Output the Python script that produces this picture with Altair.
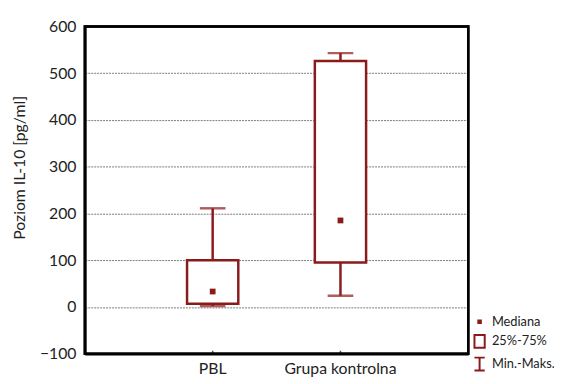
import altair as alt
import pandas as pd

groups = ["PBL", "Grupa kontrolna"]
mins = [2, 24]
q1s = [7, 95]
medians = [33, 185]
q3s = [100, 526]
maxs = [211, 543]

y_ticks = [-100, 0, 100, 200, 300, 400, 500, 600]
legend_labels = ["Mediana", "25%-75%", "Min.-Maks."]

RED = "#8B1A1A"
TXT = "#222222"
FONT = "Lato"
W, H = 389, 332

df = pd.DataFrame({"grupa": groups, "min": mins, "q1": q1s, "med": medians,
                   "q3": q3s, "max": maxs})
leg_df = pd.DataFrame({"k": legend_labels, "v": [None, None, None]})

x = alt.X("grupa:N", sort=groups, title=None,
          scale=alt.Scale(paddingInner=0, paddingOuter=0.5),
          axis=alt.Axis(labelAngle=0, labelFontSize=16, labelPadding=7, ticks=False,
                        domain=True, domainColor="#000000", domainWidth=2.5,
                        labelColor=TXT, labelFont=FONT, grid=False))

yscale = alt.Scale(domain=[-100, 600], nice=False, zero=False)
yaxis = alt.Axis(values=y_ticks, title="Poziom IL-10 [pg/ml]", labelFontSize=16,
                 labelFont=FONT, labelColor=TXT, labelPadding=9, ticks=False,
                 domain=True, domainColor="#000000", domainWidth=2.5,
                 grid=True, gridColor="#7a7a7a", gridDash=[2, 1], gridWidth=1,
                 gridOpacity={"condition": {"test": "datum.value == 600 || datum.value == -100", "value": 0}, "value": 1},
                 titleFont=FONT, titleFontSize=16, titleFontWeight="normal", titleColor=TXT,
                 titleAngle=270, titleX=-66, titleY=143, titleAlign="center",
                 titleBaseline="middle")


def Y(field):
    return alt.Y(field, type="quantitative", scale=yscale, axis=yaxis)


base = alt.Chart(df)

frame = alt.Chart(pd.DataFrame({"f": [0]})).mark_rect(
    fill="transparent", stroke="#000000", strokeWidth=2.5, opacity=1, strokeOpacity=1).encode(
    x=alt.value(0), x2=alt.value(W), y=alt.value(0), y2=alt.value(H))

whisker = base.mark_rule(color=RED, strokeWidth=2.5).encode(x=x, y=Y("min"), y2="max:Q")
box = base.mark_bar(fill="white", stroke=RED, strokeWidth=2.5, size=52).encode(
    x=x, y=Y("q1"), y2="q3:Q")
cap_lo = base.mark_tick(color=RED, thickness=2.5, size=26, orient="horizontal").encode(x=x, y=Y("min"))
cap_hi = base.mark_tick(color=RED, thickness=2.5, size=26, orient="horizontal").encode(x=x, y=Y("max"))
median = base.mark_square(color=RED, size=34, opacity=1).encode(x=x, y=Y("med"))
xticks = base.mark_tick(color="black", orient="vertical", size=6, thickness=1.5, clip=True).encode(
    x=x, y=alt.YDatum(-100, type="quantitative", scale=yscale, axis=yaxis))

paths = [
    "M-0.2,-0.2H0.2V0.2H-0.2Z M-0.2,0H0.2",
    "M-0.8,-1H0.8V1H-0.8Z",
    "M-0.8,-1H0.8M0,-1V1M-0.8,1H0.8",
]
legend_layer = alt.Chart(leg_df).mark_point(color=RED, strokeWidth=2, filled=False, opacity=1).encode(
    y=alt.Y("v:Q", scale=yscale, axis=yaxis),
    shape=alt.Shape("k:N", scale=alt.Scale(domain=legend_labels, range=paths),
                    legend=alt.Legend(title=None, orient="none", legendX=393, legendY=292,
                                      labelFontSize=13, labelFont=FONT, labelColor=TXT,
                                      symbolSize=169, symbolStrokeWidth=2, rowPadding=2,
                                      labelOffset=5, symbolStrokeColor=RED,
                                      symbolFillColor="transparent")),
)

chart = alt.layer(whisker, box, cap_lo, cap_hi, median, xticks, frame, legend_layer).properties(
    width=W, height=H,
    background="white",
    padding={"left": 78, "top": 16, "right": 87, "bottom": 28},
    autosize=alt.AutoSizeParams(type="none"),
).configure_view(stroke="#000000", strokeWidth=2.5)

chart.save("out.html", embed_options={"renderer": "svg", "actions": False})
